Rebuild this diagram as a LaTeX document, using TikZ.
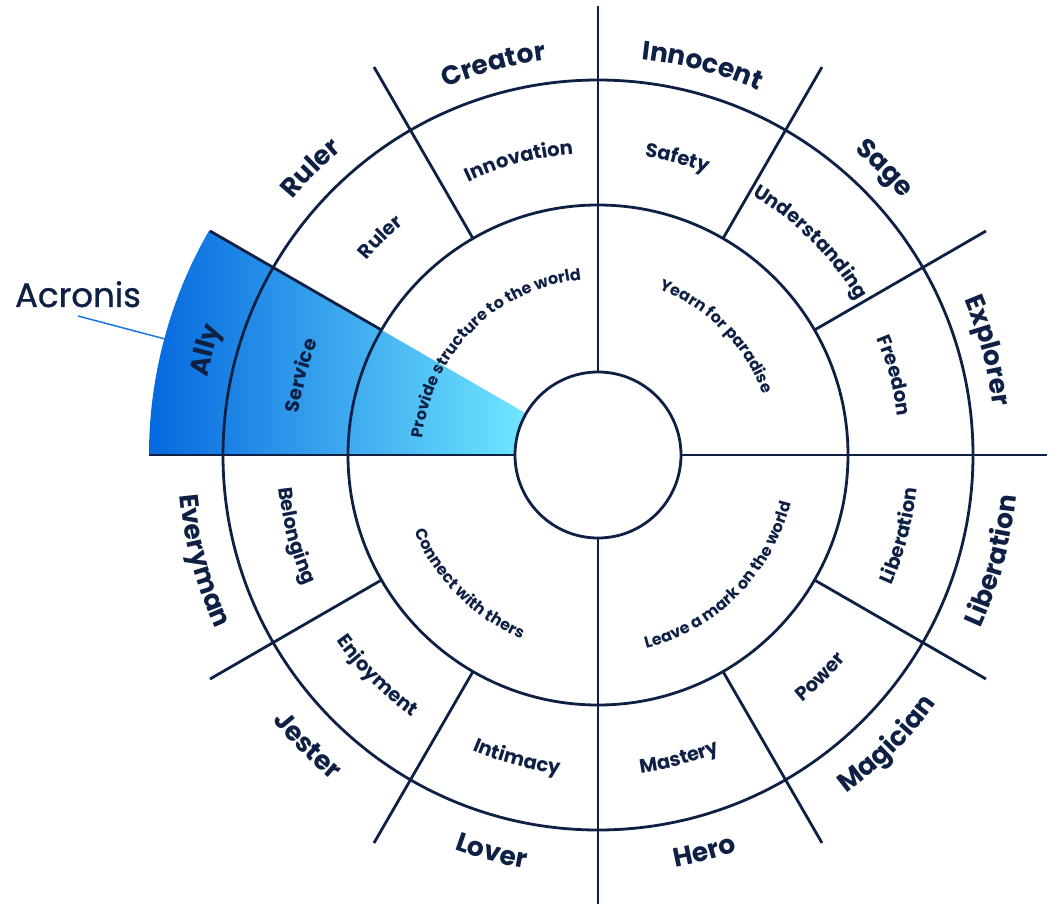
\documentclass[tikz,border=0pt]{standalone}
\usepackage{fontspec}
\setmainfont{Poppins}
\newfontfamily\pmain{Poppins}[FakeBold=1]
\usetikzlibrary{decorations.text}
\definecolor{navy}{RGB}{14,32,68}
\definecolor{gradL}{RGB}{5,104,222}
\definecolor{gradR}{RGB}{112,230,255}
\definecolor{ptr}{RGB}{28,116,228}
\tikzset{
  ring/.style={draw=navy,line width=2.8pt},
  spoke/.style={draw=navy,line width=2.8pt},
  pointer/.style={draw=ptr,line width=1.5pt}
}
% top labels: clockwise, tops outward
\newcommand{\toplab}[4]{\path[decorate,decoration={text along path,text align=center,text={|#3|#4}}] (#2+70:#1) arc[start angle=#2+70,end angle=#2-70,radius=#1];}
% bottom labels: counter-clockwise, tops inward
\newcommand{\botlab}[4]{\path[decorate,decoration={text along path,text align=center,text={|#3|#4}}] (#2-70:#1) arc[start angle=#2-70,end angle=#2+70,radius=#1];}
\newcommand{\fout}{\bfseries\fontsize{26.5}{30}\selectfont\color{navy}}
\newcommand{\fmid}{\bfseries\fontsize{19.5}{24}\selectfont\color{navy}}
\newcommand{\finn}{\bfseries\fontsize{16}{20}\selectfont\color{navy}}
\begin{document}
\begin{tikzpicture}[x=1pt,y=1pt]
\useasboundingbox (-598,-450) rectangle (454,455);
% highlighted wedge
\shade[left color=gradL,right color=gradR] (150:83) arc[start angle=150,end angle=180,radius=83] -- (180:449) arc[start angle=180,end angle=150,radius=449] -- cycle;
% rings
\draw[ring] (0,0) circle[radius=83];
\draw[ring] (0,0) circle[radius=250];
\draw[ring] (0,0) circle[radius=375];
% axes
\draw[spoke] (90:83) -- (90:449);
\draw[spoke] (270:83) -- (270:449);
\draw[spoke] (0:83) -- (0:449);
\draw[spoke] (180:83) -- (180:449);
% outer spokes
\foreach \a in {30,60,120,150,210,240,300,330}{
  \draw[spoke] (\a:250) -- (\a:448);
}
% outer labels
\toplab{398}{105}{\fout}{Creator}
\toplab{398}{75}{\fout}{Innocent}
\toplab{398}{45}{\fout}{Sage}
\toplab{398}{15}{\fout}{Explorer}
\toplab{398}{135}{\fout}{Ruler}
\toplab{398}{165}{\fout}{Ally}
\botlab{420}{345}{\fout}{Liberation}
\botlab{420}{315}{\fout}{Magician}
\botlab{420}{285}{\fout}{Hero}
\botlab{420}{255}{\fout}{Lover}
\botlab{420}{225}{\fout}{Jester}
\botlab{420}{195}{\fout}{Everyman}
% middle labels
\toplab{302}{105}{\fmid}{Innovation}
\toplab{302}{75}{\fmid}{Safety}
\toplab{302}{45}{\fmid}{Understanding}
\toplab{302}{15}{\fmid}{Freedon}
\toplab{302}{135}{\fmid}{Ruler}
\toplab{302}{165}{\fmid}{Service}
\botlab{321}{345}{\fmid}{Liberation}
\botlab{321}{315}{\fmid}{Power}
\botlab{321}{285}{\fmid}{Mastery}
\botlab{321}{255}{\fmid}{Intimacy}
\botlab{321}{225}{\fmid}{Enjoyment}
\botlab{321}{195}{\fmid}{Belonging}
% inner labels
\toplab{176}{135}{\finn}{Provide structure to the world}
\toplab{176}{45}{\finn}{Yearn for paradise}
\botlab{199}{225}{\finn}{Connect with thers}
\botlab{199}{315}{\finn}{Leave a mark on the world}
% Acronis pointer
\node[anchor=base,inner sep=0pt,text=navy,font=\pmain\fontsize{34}{40}\selectfont] (acr) at (-520,148) {Acronis};
\coordinate (allyedge) at (165:448);
\draw[pointer] ([yshift=-9pt]acr.base) -- (allyedge);
\end{tikzpicture}
\end{document}
